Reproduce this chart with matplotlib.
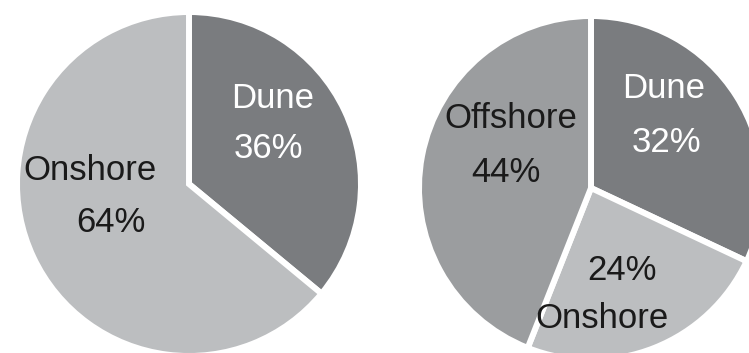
import matplotlib
matplotlib.use("Agg")
import matplotlib.pyplot as plt

plt.rcParams['font.family'] = ['Liberation Sans', 'DejaVu Sans']

# Left pie
left_labels = ["Dune", "Onshore"]
left_values = [36, 64]
left_colors = ["#7a7c7f", "#bcbec0"]

# Right pie
right_labels = ["Dune", "Onshore", "Offshore"]
right_values = [32, 24, 44]
right_colors = ["#7a7c7f", "#bcbec0", "#9b9d9f"]

W, H = 749, 353
fig = plt.figure(figsize=(W / 100, H / 100), dpi=100)
ax = fig.add_axes([0, 0, 1, 1])

R = 172
wp = dict(edgecolor='white', linewidth=4.3)
ax.pie(left_values, colors=left_colors, startangle=90, counterclock=False,
       center=(189, H - 184), radius=R, wedgeprops=wp, frame=True)
ax.pie(right_values, colors=right_colors, startangle=90, counterclock=False,
       center=(591, H - 188), radius=R, wedgeprops=wp, frame=True)
ax.set_xlim(0, W)
ax.set_ylim(0, H)
ax.set_aspect('equal')
ax.axis('off')

fs = 25
def lab(x, y, s, c):
    ax.text(x, H - y, s, ha='center', va='center', fontsize=fs, color=c)

# left labels
lab(273, 99, left_labels[0], 'white')
lab(268, 148, f"{left_values[0]}%", 'white')
lab(90, 170, left_labels[1], '#1a1a1a')
lab(111, 222, f"{left_values[1]}%", '#1a1a1a')

# right labels
lab(664, 89, right_labels[0], 'white')
lab(666, 143, f"{right_values[0]}%", 'white')
lab(622, 270, f"{right_values[1]}%", '#1a1a1a')
lab(602, 318, right_labels[1], '#1a1a1a')
lab(511, 118, right_labels[2], '#1a1a1a')
lab(506, 172, f"{right_values[2]}%", '#1a1a1a')

fig.savefig("out.png", dpi=100)
